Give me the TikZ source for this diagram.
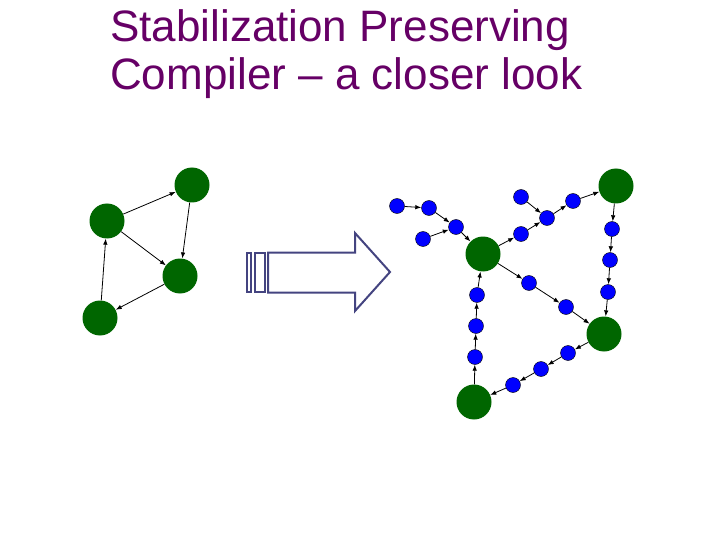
\documentclass[tikz,border=0pt]{standalone}
\usepackage{fontspec}
\setmainfont{Liberation Sans}
\usetikzlibrary{arrows.meta}
\begin{document}
\begin{tikzpicture}[x=1pt,y=-1pt,
 big/.style={circle,fill={rgb,255:red,0;green,102;blue,0},minimum size=35pt,inner sep=0pt},
 sm/.style={circle,fill=blue,draw=black,line width=0.4pt,minimum size=15pt,inner sep=0pt},
 ed/.style={-{Latex[length=6pt,width=4.5pt]},line width=0.8pt},
 ttl/.style={anchor=base west,text={rgb,255:red,102;green,0;blue,102},font=\fontsize{44}{50}\selectfont,inner sep=0pt}]
\useasboundingbox (0,0) rectangle (720,540);
\node[ttl] (t1) at (110,42) {Stabilization Preserving};
\node[ttl] (t2) at (110,90) {Compiler – a closer look};
% left graph
\node[big] (A) at (107,221) {};
\node[big] (B) at (192,185) {};
\node[big] (C) at (180,276) {};
\node[big] (D) at (100,318) {};
\draw[ed] (A)--(B); \draw[ed] (B)--(C); \draw[ed] (A)--(C); \draw[ed] (C)--(D); \draw[ed] (D)--(A);
% arrow
\draw[draw={rgb,255:red,68;green,68;blue,128},line width=2pt,fill=white]
 (268,252.5)--(355,252.5)--(355,233)--(390,272)--(355,311)--(355,292.5)--(268,292.5)--cycle;
\draw[draw={rgb,255:red,68;green,68;blue,128},line width=2pt] (246.5,253)rectangle(251,292) (255,253) rectangle (264.5,292);
% right graph
\node[big] (G1) at (483,254) {};
\node[big] (G2) at (616,186) {};
\node[big] (G3) at (604,334) {};
\node[big] (G4) at (474,402) {};
\foreach \n/\x/\y in {b1/397/206,b2/429/208,b3/456/227,b4/423/239,b5/521/197,b6/547/218,b7/573/201,b8/521/234,b9/612/229,b10/610/260,b11/608/292,b12/529/283,b13/566/307,b14/568/353,b15/541/369,b16/513/385,b17/477/295,b18/476/326,b19/475/357}
 \node[sm] (\n) at (\x,\y) {};
\foreach \a/\b in {b1/b2,b2/b3,b4/b3,b3/G1,b5/b6,G1/b8,b8/b6,b6/b7,b7/G2,G2/b9,b9/b10,b10/b11,b11/G3,G1/b12,b12/b13,b13/G3,G3/b14,b14/b15,b15/b16,b16/G4,G4/b19,b19/b18,b18/b17,b17/G1}
 \draw[ed] (\a)--(\b);
\end{tikzpicture}
\end{document}
